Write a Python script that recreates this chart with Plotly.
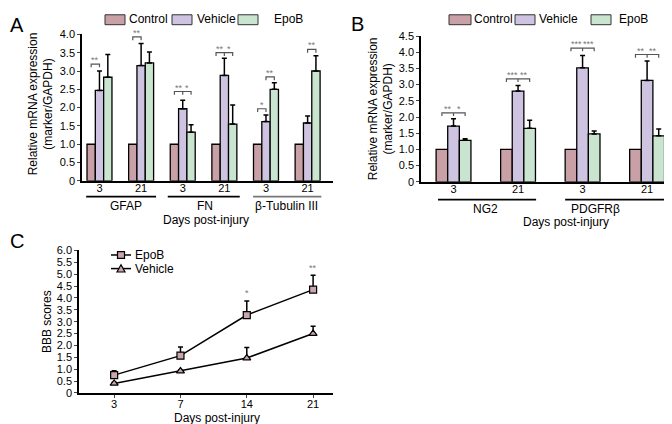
import plotly.graph_objects as go

W, H = 672, 424
def px(x): return x / W
def py(y): return 1 - y / H

FONT = "Arial, Liberation Sans, sans-serif"
series = ["Control", "Vehicle", "EpoB"]
colors = {"Control": "#C9A0A5", "Vehicle": "#CEC4E2", "EpoB": "#C9E5CF"}
marker_fill = "#C9A6AC"
sig_color = "#777777"

# ---------------- Panel A data ----------------
a_markers = ["GFAP", "FN", "β-Tubulin III"]
a_days = ["3", "21", "3", "21", "3", "21"]
a_control = [1.0, 1.0, 1.0, 1.0, 1.0, 1.0]
a_vehicle = [2.47, 3.15, 1.97, 2.88, 1.62, 1.58]
a_epob = [2.83, 3.22, 1.33, 1.55, 2.50, 3.00]
a_vehicle_err = [0.53, 0.60, 0.23, 0.47, 0.18, 0.19]
a_epob_err = [0.62, 0.30, 0.20, 0.52, 0.18, 0.42]
# (group, bars spanned, bracket height, star labels)
a_sig = [
    (0, [0, 1], 3.19, ["**"]),
    (1, [0, 1], 3.93, ["**"]),
    (2, [0, 1, 2], 2.44, ["**", "*"]),
    (3, [0, 1, 2], 3.50, ["**", "*"]),
    (4, [0, 1], 1.97, ["*"]),
    (4, [1, 2], 2.84, ["**"]),
    (5, [1, 2], 3.59, ["**"]),
]

# ---------------- Panel B data ----------------
b_markers = ["NG2", "PDGFRβ"]
b_days = ["3", "21", "3", "21"]
b_control = [1.0, 1.0, 1.0, 1.0]
b_vehicle = [1.72, 2.80, 3.52, 3.13]
b_epob = [1.28, 1.65, 1.48, 1.42]
b_vehicle_err = [0.23, 0.17, 0.38, 0.60]
b_epob_err = [0.05, 0.25, 0.09, 0.21]
b_sig = [
    (0, [0, 1, 2], 2.13, ["**", "*"]),
    (1, [0, 1, 2], 3.18, ["***", "**"]),
    (2, [0, 1, 2], 4.13, ["***", "***"]),
    (3, [0, 1, 2], 3.93, ["**", "**"]),
]

# ---------------- Panel C data ----------------
c_days = ["3", "7", "14", "21"]
c_epob = [0.75, 1.57, 3.28, 4.35]
c_epob_err = [0.18, 0.36, 0.59, 0.60]
c_vehicle = [0.40, 0.92, 1.47, 2.50]
c_vehicle_err = [0.05, 0.05, 0.44, 0.31]
c_sig = [(2, 4.02, "*"), (3, 5.10, "**")]

fig = go.Figure()

def add_bars(xref, yref, vals_list, errs_list, offsets, width):
    n = len(vals_list[0])
    for k, name in enumerate(series):
        eb = None
        if errs_list[k] is not None:
            eb = dict(type="data", symmetric=False, array=errs_list[k],
                      arrayminus=[0] * n, color="black", thickness=1.5, width=2.5)
        fig.add_trace(go.Bar(
            x=list(range(n)), y=vals_list[k], width=width, offset=offsets[k],
            name=name, showlegend=False,
            marker=dict(color=colors[name], line=dict(color="black", width=1.3)),
            error_y=eb if eb else dict(visible=False),
            xaxis=xref, yaxis=yref,
        ))

a_off = [-0.30, -0.10, 0.10]
a_w = 0.20
add_bars("x", "y", [a_control, a_vehicle, a_epob], [None, a_vehicle_err, a_epob_err], a_off, a_w)

b_off = [-0.27, -0.09, 0.09]
b_w = 0.18
add_bars("x2", "y2", [b_control, b_vehicle, b_epob], [None, b_vehicle_err, b_epob_err], b_off, b_w)

# Panel C lines
c_x = list(range(len(c_days)))
for name, vals, errs, sym in [("EpoB", c_epob, c_epob_err, "square"),
                              ("Vehicle", c_vehicle, c_vehicle_err, "triangle-up")]:
    fig.add_trace(go.Scatter(
        x=c_x, y=vals, mode="lines+markers", name=name, showlegend=False,
        line=dict(color="black", width=1.5),
        marker=dict(symbol=sym, size=7, color=marker_fill, line=dict(color="black", width=1.2)),
        error_y=dict(type="data", symmetric=False, array=errs, arrayminus=[0] * len(vals),
                     color="black", thickness=1.5, width=2.5),
        xaxis="x3", yaxis="y3",
    ))

shapes = []
annotations = []

def add_sig(sig, xref, yref, offsets, width, drop):
    for g, bars, yv, labels in sig:
        cx = [g + offsets[b] + width / 2 for b in bars]
        path = f"M{cx[0]},{yv - drop} L{cx[0]},{yv} L{cx[-1]},{yv} L{cx[-1]},{yv - drop}"
        if len(cx) == 3:
            path += f" M{cx[1]},{yv} L{cx[1]},{yv - drop}"
        shapes.append(dict(type="path", path=path, xref=xref, yref=yref,
                           line=dict(color="#555555", width=1.2)))
        for i, lab in enumerate(labels):
            annotations.append(dict(x=(cx[i] + cx[i + 1]) / 2, y=yv, xref=xref, yref=yref,
                                    text=lab, showarrow=False, yanchor="bottom", yshift=-3,
                                    font=dict(size=9, color=sig_color, family=FONT)))

add_sig(a_sig, "x", "y", a_off, a_w, 0.09)
add_sig(b_sig, "x2", "y2", b_off, b_w, 0.1)

for g, yv, lab in c_sig:
    annotations.append(dict(x=g, y=yv, xref="x3", yref="y3", text=lab, showarrow=False,
                            yanchor="bottom", yshift=-3, font=dict(size=9, color=sig_color, family=FONT)))

# group underlines + labels
def add_groups(xref, spans, labels, label_x, line_y, label_y, line_colors):
    for (x0, x1), lab, lx, lc in zip(spans, labels, label_x, line_colors):
        shapes.append(dict(type="line", xref=xref, yref="paper", x0=x0, x1=x1,
                           y0=py(line_y), y1=py(line_y), line=dict(color=lc, width=1.8)))
        annotations.append(dict(x=lx, y=py(label_y), xref=xref, yref="paper", text=lab,
                                showarrow=False, yanchor="middle",
                                font=dict(size=12, color="black", family=FONT)))

add_groups("x", [(-0.32, 1.36), (1.64, 3.37), (3.69, 5.33)], a_markers,
           [0.63, 2.54, 4.5], 188, 197.5, ["black", "black", "#777777"])
add_groups("x2", [(-0.24, 1.28), (1.73, 3.6)], b_markers,
           [0.5, 2.2], 191, 200.5, ["black", "black"])

def text(x, y, s, size=12, angle=0, xanchor="center"):
    annotations.append(dict(x=px(x), y=py(y), xref="paper", yref="paper", text=s,
                            showarrow=False, textangle=angle, xanchor=xanchor, yanchor="middle",
                            font=dict(size=size, color="black", family=FONT)))

# axis titles
text(198, 212, "Days post-injury")
text(558, 214, "Days post-injury")
text(209, 415.5, "Days post-injury")
text(33, 93, "Relative mRNA expression<br>(marker/GAPDH)", angle=-90)
text(373, 98, "Relative mRNA expression<br>(marker/GAPDH)", angle=-90)
text(39, 317, "BBB scores", angle=-90)

# panel letters
text(9, 11, "A", size=20)
text(349, 10, "B", size=20)
text(9, 234, "C", size=20)

# manual legends for A and B
def legend_bars(items):
    for name, bx0, bx1, tx in items:
        shapes.append(dict(type="rect", xref="paper", yref="paper", x0=px(bx0), x1=px(bx1),
                           y0=py(11), y1=py(0.8), fillcolor=colors[name],
                           line=dict(color="#333333", width=1)))
        text(tx, 5.5, name, size=12, xanchor="left")

legend_bars([("Control", 97, 117, 119), ("Vehicle", 164, 184, 187), ("EpoB", 230, 250, 264)])
legend_bars([("Control", 441, 463, 464), ("Vehicle", 507, 527, 528.5), ("EpoB", 583, 603, 609)])

# manual legend for C
for name, ly, sym in [("EpoB", 248, "square"), ("Vehicle", 262, "triangle")]:
    shapes.append(dict(type="line", xref="paper", yref="paper", x0=px(103), x1=px(123),
                       y0=py(ly), y1=py(ly), line=dict(color="black", width=1.5)))
    if sym == "square":
        shapes.append(dict(type="rect", xref="paper", yref="paper", x0=px(109.5), x1=px(116.5),
                           y0=py(ly + 3.5), y1=py(ly - 3.5), fillcolor=marker_fill,
                           line=dict(color="black", width=1.2)))
    else:
        path = (f"M{px(109)},{py(ly + 3.5)} L{px(117)},{py(ly + 3.5)} "
                f"L{px(113)},{py(ly - 4)} Z")
        shapes.append(dict(type="path", xref="paper", yref="paper", path=path,
                           fillcolor=marker_fill, line=dict(color="black", width=1.2)))
    text(125, ly, name, size=12, xanchor="left")

def yticks(maxv):
    vals = [i * 0.5 for i in range(int(maxv / 0.5) + 1)]
    txt = ["0"] + [f"{v:.1f}" for v in vals[1:]]
    return vals, txt

ya_v, ya_t = yticks(4.0)
yb_v, yb_t = yticks(4.5)
yc_v, yc_t = yticks(6.0)

axis_common = dict(showline=True, linecolor="black", linewidth=1.5, showgrid=False,
                   zeroline=False, tickfont=dict(size=11, color="black", family=FONT),
                   fixedrange=True)

fig.update_layout(
    width=W, height=H, margin=dict(l=0, r=0, t=0, b=0),
    paper_bgcolor="white", plot_bgcolor="white", barmode="overlay",
    showlegend=False, font=dict(family=FONT, color="black"),
    xaxis=dict(domain=[px(74), px(325)], range=[-0.42, 5.61], anchor="y",
               tickvals=list(range(6)), ticktext=a_days, ticks="", ticklabelstandoff=-4,
               **axis_common),
    yaxis=dict(domain=[py(171.7), py(21)], range=[0, 4.0], anchor="x",
               tickvals=ya_v, ticktext=ya_t, ticks="outside", ticklen=3, **axis_common),
    xaxis2=dict(domain=[px(413), 1.0], range=[-0.504, 3.51], anchor="y2",
                tickvals=list(range(4)), ticktext=b_days, ticks="", ticklabelstandoff=-4,
                **axis_common),
    yaxis2=dict(domain=[py(172.7), py(22.7)], range=[0, 4.5], anchor="x2",
                tickvals=yb_v, ticktext=yb_t, ticks="outside", ticklen=3, **axis_common),
    xaxis3=dict(domain=[px(71), px(325)], range=[-0.53, 3.3], anchor="y3",
                tickvals=c_x, ticktext=c_days, ticks="outside", ticklen=3, ticklabelstandoff=-3,
                **axis_common),
    yaxis3=dict(domain=[py(390), py(243.3)], range=[0, 6.0], anchor="x3",
                tickvals=yc_v, ticktext=yc_t, ticks="outside", ticklen=3, **axis_common),
    shapes=shapes, annotations=annotations,
)

fig.write_html("out.html")
